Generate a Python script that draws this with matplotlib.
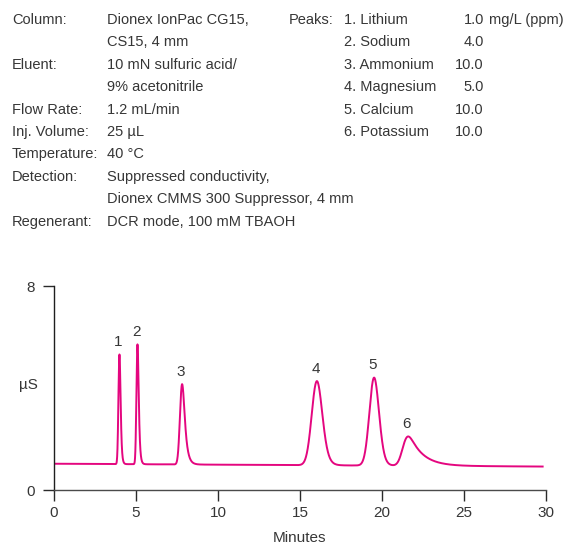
import numpy as np
import matplotlib
matplotlib.use("Agg")
import matplotlib.pyplot as plt
from matplotlib import font_manager

# Chromatogram peaks: retention time (min), height above baseline (µS), width and tailing (min)
peak_labels = ["1", "2", "3", "4", "5", "6"]
peak_times = [3.99, 5.09, 7.81, 16.03, 19.52, 21.60]
peak_heights = [4.30, 4.70, 3.15, 3.30, 3.45, 1.15]
peak_sigma = [0.055, 0.055, 0.11, 0.29, 0.27, 0.24]
peak_tau = [0.05, 0.06, 0.15, 0.18, 0.14, 0.80]

# Baseline level at start and end of the run (µS)
baseline_start = 1.03
baseline_end = 0.92
run_end = 29.8

x_ticks = [0, 5, 10, 15, 20, 25, 30]
y_ticks = [0, 8]

column_labels = ["Column:", "", "Eluent:", "", "Flow Rate:", "Inj. Volume:",
                 "Temperature:", "Detection:", "", "Regenerant:"]
column_values = ["Dionex IonPac CG15,", "CS15, 4 mm", "10 mN sulfuric acid/",
                 "9% acetonitrile", "1.2 mL/min", "25 µL", "40 °C",
                 "Suppressed conductivity,", "Dionex CMMS 300 Suppressor, 4 mm",
                 "DCR mode, 100 mM TBAOH"]
peak_names = ["1. Lithium", "2. Sodium", "3. Ammonium", "4. Magnesium",
              "5. Calcium", "6. Potassium"]
peak_conc = ["1.0", "4.0", "10.0", "5.0", "10.0", "10.0"]
conc_unit = "mg/L (ppm)"

names = {f.name for f in font_manager.fontManager.ttflist}
family = "Liberation Sans Narrow" if "Liberation Sans Narrow" in names else "Liberation Sans"
plt.rcParams["font.family"] = [family, "DejaVu Sans"]

TEXT = "#363636"
LINE = "#e4067f"

W, H = 566, 547
fig = plt.figure(figsize=(W / 100, H / 100), dpi=100)


def emg_peak(t, t0, h, sigma, tau):
    dt = t[1] - t[0]
    g = np.exp(-0.5 * (t - t.mean()) ** 2 / sigma ** 2)
    k = np.exp(-np.arange(0, 10 * tau, dt) / tau)
    y = np.convolve(g, k)[: len(t)]
    i = np.argmax(y)
    shift = t[i] - t0
    y = np.interp(t + shift, t, y, left=0, right=0)
    return h * y / y.max()


t = np.arange(0, run_end, 0.005)
signal = baseline_start + (baseline_end - baseline_start) * t / run_end
for t0, h, s, tau in zip(peak_times, peak_heights, peak_sigma, peak_tau):
    signal = signal + emg_peak(t, t0, h, s, tau)

ax = fig.add_axes([54 / W, 1 - 490 / H, (546 - 54) / W, (490 - 286) / H])
ax.plot(t, signal, color=LINE, lw=1.4)
ax.set_xlim(0, 30)
ax.set_ylim(0, 8)
ax.set_xticks(x_ticks)
ax.set_yticks(y_ticks)
for s in ["top", "right"]:
    ax.spines[s].set_visible(False)
ax.spines["left"].set_color("#1e1e1e")
ax.spines["bottom"].set_color("#4a4a4a")
for s in ["left", "bottom"]:
    ax.spines[s].set_linewidth(1.0)
ax.tick_params(direction="out", length=8, width=1.0, colors="#2a2a2a",
               labelcolor=TEXT, labelsize=11)
ax.tick_params(axis="y", pad=6)
ax.set_xlabel("Minutes", fontsize=11, color=TEXT, labelpad=8)
ax.set_ylabel("µS", fontsize=11, color=TEXT, rotation=0, ha="center", va="center")
ax.yaxis.set_label_coords(-26 / 492, (490 - 385) / 204)

for lab, t0, h in zip(peak_labels, peak_times, peak_heights):
    base = baseline_start + (baseline_end - baseline_start) * t0 / run_end
    ax.annotate(lab, (t0, base + h), xytext=(-1, 4), textcoords="offset points",
                ha="center", va="bottom", fontsize=11, color=TEXT)

# Method conditions block
fs = 10.5
row_h = 22.4
y0 = 20
for i, (lab, val) in enumerate(zip(column_labels, column_values)):
    y = 1 - (y0 + i * row_h) / H
    if lab:
        fig.text(12 / W, y, lab, fontsize=fs, color=TEXT, va="center")
    fig.text(107 / W, y, val, fontsize=fs, color=TEXT, va="center")

fig.text(333 / W, 1 - y0 / H, "Peaks:", fontsize=fs, color=TEXT, va="center", ha="right")
for i, (nm, c) in enumerate(zip(peak_names, peak_conc)):
    y = 1 - (y0 + i * row_h) / H
    fig.text(344 / W, y, nm, fontsize=fs, color=TEXT, va="center")
    fig.text(484 / W, y, c, fontsize=fs, color=TEXT, va="center", ha="right")
fig.text(489 / W, 1 - y0 / H, conc_unit, fontsize=fs, color=TEXT, va="center")

fig.savefig("out.png", dpi=100)
